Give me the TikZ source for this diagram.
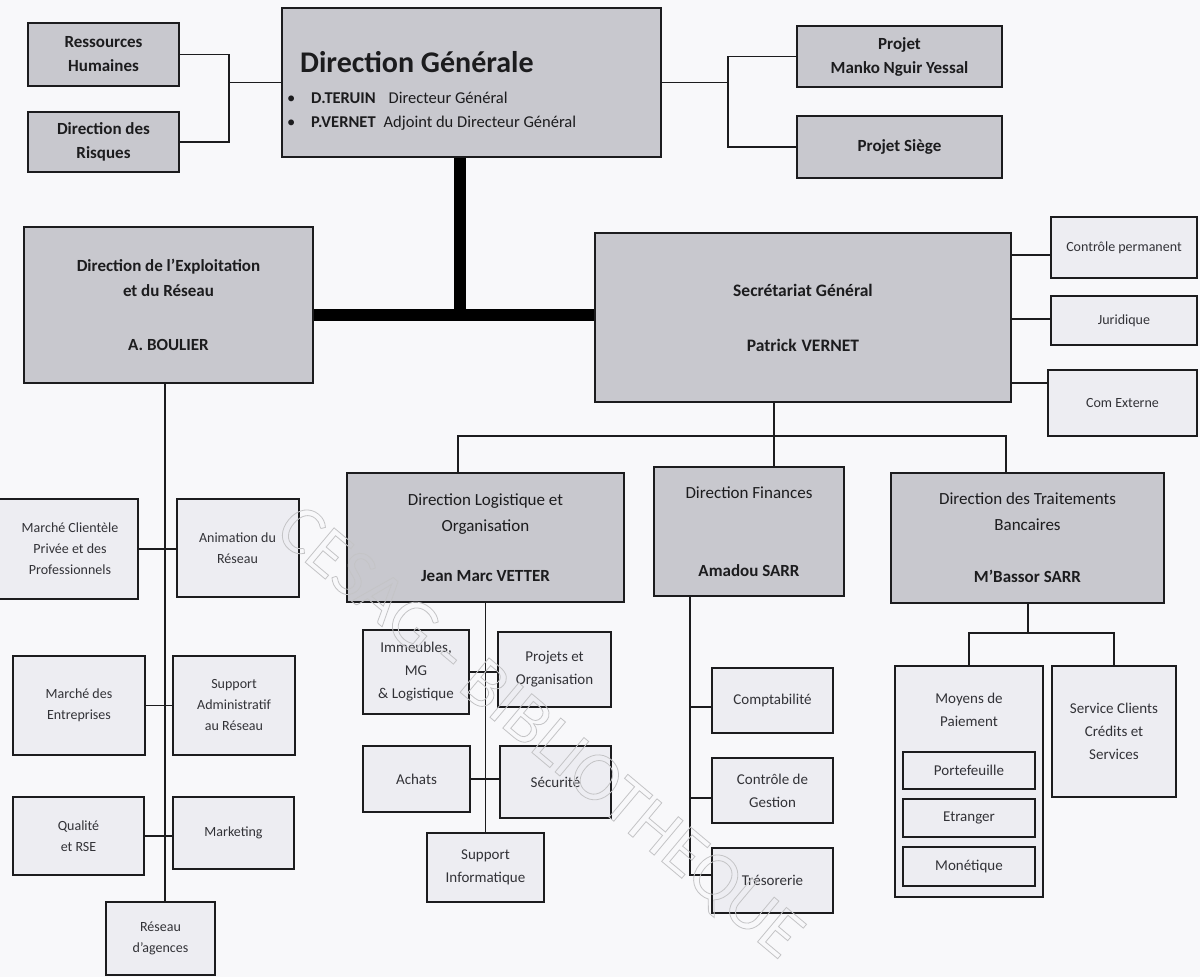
\documentclass[tikz,border=0pt]{standalone}
\usepackage{fontspec}
\setmainfont{Carlito}
\definecolor{bg}{RGB}{248,248,250}
\definecolor{mainfill}{RGB}{200,200,206}
\definecolor{subfill}{RGB}{237,237,242}
\definecolor{ink}{RGB}{28,28,30}
\definecolor{subink}{RGB}{50,50,55}
\definecolor{wm}{RGB}{196,196,198}
\begin{document}
\begin{tikzpicture}[x=1pt,y=-1pt,
  mainbox/.style={draw=ink,line width=2.3pt,fill=mainfill,text=ink,align=center,inner sep=0pt,font=\fontsize{17}{24}\selectfont\bfseries},
  headbox/.style={draw=ink,line width=2.3pt,fill=mainfill,text=ink,align=center,inner sep=0pt,font=\fontsize{17}{26}\selectfont},
  subbox/.style={draw=ink,line width=2pt,fill=subfill,text=subink,align=center,inner sep=0pt,font=\fontsize{15}{23}\selectfont},
  smallbox/.style={subbox,font=\fontsize{14}{21}\selectfont},
  link/.style={draw=ink,line width=1.8pt},
  trunk/.style={draw=black,line width=12pt},
  dgtext/.style={anchor=base west,inner sep=0pt,text=ink},
]
\fill[bg] (0,0) rectangle (1200,977);
\useasboundingbox (0,0) rectangle (1200,977);

% ---- top level
\node[mainbox,minimum width=151pt,minimum height=63pt] (RH) at (103.5,54.5) {Ressources\\Humaines};
\node[mainbox,minimum width=151pt,minimum height=60pt] (DR) at (103.5,142) {Direction des\\Risques};
\node[mainbox,minimum width=379pt,minimum height=149pt] (DG) at (471.5,82.5) {};
\node[dgtext,font=\fontsize{30}{34}\selectfont\bfseries] (DGt) at (300,72) {Direction Générale};
\node[dgtext,font=\fontsize{16.5}{20}\selectfont] (DGa) at (287,103) {\makebox[24pt][l]{•}\textbf{D.TERUIN}\hspace{13pt}Directeur Général};
\node[dgtext,font=\fontsize{16.5}{20}\selectfont] (DGb) at (287,127) {\makebox[24pt][l]{•}\textbf{P.VERNET}\hspace{8pt}Adjoint du Directeur Général};
\node[mainbox,minimum width=205pt,minimum height=61pt] (PM) at (899.5,56.5) {Projet\\Manko Nguir Yessal};
\node[mainbox,minimum width=205pt,minimum height=62pt] (PS) at (899.5,147) {Projet Siège};

\coordinate (jL) at (229,82.5);
\draw[link] (RH.east) -| (jL) |- (DR.east);
\draw[link] (jL) -- (DG.west);
\coordinate (jR) at (728,82.5);
\draw[link] (DG.east) -- (jR);
\draw[link] (PM.west) -| (jR) |- (PS.west);

% ---- second level
\node[mainbox,minimum width=289pt,minimum height=156pt,font=\fontsize{17}{25}\selectfont\bfseries] (DE) at (168.5,305) {Direction de l’Exploitation\\et du Réseau\\[29pt]A. BOULIER};
\node[mainbox,minimum width=416pt,minimum height=169pt,font=\fontsize{17.5}{25}\selectfont\bfseries] (SG) at (803,317.5) {Secrétariat Général\\[30pt]Patrick\hspace{5pt}VERNET};
\coordinate (jT) at (460,315);
\draw[trunk] (DG.south -| jT) -- (jT);
\draw[trunk] (DE.east |- jT) -- (SG.west |- jT);

\node[smallbox,minimum width=146pt,minimum height=61pt] (CP) at (1124,247.5) {Contrôle permanent};
\node[smallbox,minimum width=146pt,minimum height=49pt] (JU) at (1124,320.5) {Juridique};
\node[smallbox,minimum width=149pt,minimum height=66pt] (CE) at (1122.5,403) {Com Externe};
\draw[link] (SG.east |- 0,255) -- (CP.west |- 0,255);
\draw[link] (SG.east |- 0,319) -- (JU.west |- 0,319);
\draw[link] (SG.east |- 0,383) -- (CE.west |- 0,383);

% ---- directions under SG
\node[headbox,minimum width=277pt,minimum height=129pt] (DL) at (485.5,537.5) {Direction Logistique et\\Organisation\\[24pt]\textbf{Jean Marc VETTER}};
\node[headbox,minimum width=190pt,minimum height=129pt] (DF) at (749,531.5) {Direction Finances\\[52pt]\textbf{Amadou SARR}};
\node[headbox,minimum width=273pt,minimum height=130pt] (DTB) at (1027.5,538) {Direction des Traitements\\Bancaires\\[26pt]\textbf{M’Bassor SARR}};
\coordinate (bL) at (458,436);
\coordinate (bM) at (774,436);
\coordinate (bR) at (1006,436);
\draw[link] (DL.north -| bL) |- (bR) -- (DTB.north -| bR);
\draw[link] (SG.south -| bM) -- (DF.north -| bM);

% ---- DE branch
\node[smallbox,minimum width=143pt,minimum height=100pt] (MC) at (66.5,549) {\hspace{7pt}Marché Clientèle\\\hspace{7pt}Privée et des\\\hspace{7pt}Professionnels};
\node[smallbox,minimum width=122pt,minimum height=98pt] (AR) at (237.5,548) {Animation du\\Réseau};
\node[smallbox,minimum width=132pt,minimum height=99pt] (ME) at (79,705.5) {Marché des\\Entreprises};
\node[smallbox,minimum width=122pt,minimum height=99pt] (SA) at (234,705.5) {Support\\Administratif\\au Réseau};
\node[smallbox,minimum width=131pt,minimum height=78pt] (QR) at (78.5,836) {Qualité\\et RSE};
\node[smallbox,minimum width=121pt,minimum height=72pt] (MK) at (233.5,833) {Marketing};
\node[smallbox,minimum width=109pt,minimum height=73pt] (RA) at (160.5,938.5) {Réseau\\d’agences};
\coordinate (sp1) at (165,383);
\draw[link] (DE.south -| sp1) -- (RA.north -| sp1);
\draw[link] (MC.east) -- (MC.east -| AR.west);
\draw[link] (ME.east) -- (ME.east -| SA.west);
\draw[link] (QR.east) -- (QR.east -| MK.west);

% ---- DL branch
\node[subbox,minimum width=106pt,minimum height=84pt] (IM) at (416,672) {Immeubles,\\MG\\\& Logistique};
\node[subbox,minimum width=113pt,minimum height=75pt] (PO) at (554.5,669.5) {Projets et\\Organisation};
\node[subbox,minimum width=107pt,minimum height=66pt] (AC) at (416.5,779) {Achats};
\node[subbox,minimum width=111pt,minimum height=72pt] (SE) at (555.5,782) {Sécurité};
\node[subbox,minimum width=117pt,minimum height=69pt] (SI) at (485.5,867.5) {Support\\Informatique};
\draw[link] (DL.south) -- (SI.north);
\draw[link] (IM.east) -- (IM.east -| PO.west);
\draw[link] (AC.east) -- (AC.east -| SE.west);

% ---- DF branch
\node[subbox,minimum width=121pt,minimum height=65pt] (CO) at (772.5,700.5) {Comptabilité};
\node[subbox,minimum width=121pt,minimum height=65pt] (CG) at (772.5,790.5) {Contrôle de\\Gestion};
\node[subbox,minimum width=121pt,minimum height=65pt] (TR) at (772.5,880.5) {Trésorerie};
\coordinate (fS) at (690,875);
\draw[link] (DF.south -| fS) -- (fS) -- (TR.west |- fS);
\draw[link] (fS |- 0,707) -- (CO.west |- 0,707);
\draw[link] (fS |- 0,798) -- (CG.west |- 0,798);

% ---- DTB branch
\node[subbox,minimum width=148pt,minimum height=231pt] (MP) at (969,781.5) {};
\node[subbox,draw=none,fill=none] (MPt) at (969,710) {Moyens de\\Paiement};
\node[subbox,minimum width=132pt,minimum height=37pt] (PF) at (969,770.5) {Portefeuille};
\node[subbox,minimum width=132pt,minimum height=38pt] (ET) at (969,818) {Etranger};
\node[subbox,minimum width=132pt,minimum height=39pt] (MO) at (969,866.5) {Monétique};
\node[subbox,minimum width=124pt,minimum height=131pt] (SC) at (1114,731.5) {Service Clients\\Crédits et\\Services};
\coordinate (tj) at (1028,633);
\draw[link] (DTB.south -| tj) -- (tj);
\draw[link] (MP.north) |- (tj) -| (SC.north);

% ---- watermark
\node[rotate=-40,text=wm,inner sep=0pt,font=\fontsize{70}{70}\selectfont] (WM) at (538,734) {\special{pdf:code 1 Tr 0.8 w}CESAG - BIBLIOTHEQUE\special{pdf:code 0 Tr}};
\end{tikzpicture}
\end{document}
